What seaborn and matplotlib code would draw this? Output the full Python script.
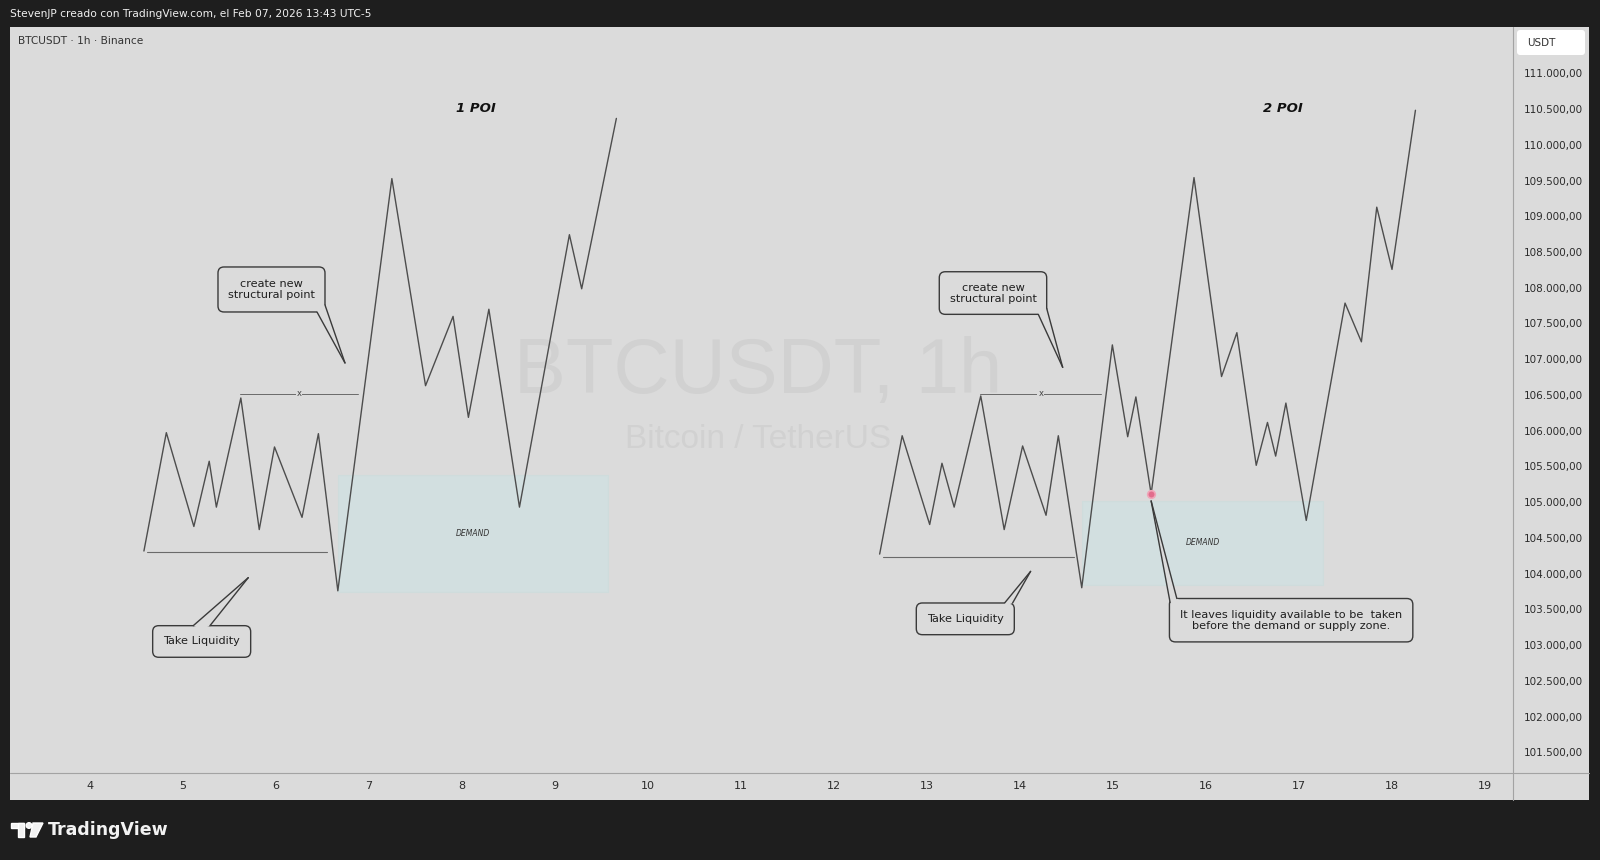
import matplotlib
matplotlib.use("Agg")
import numpy as np
import pandas as pd
import matplotlib.pyplot as plt
import seaborn as sns
from matplotlib.patches import Rectangle, FancyBboxPatch, Polygon, Circle
from matplotlib.lines import Line2D
from matplotlib.transforms import IdentityTransform
from matplotlib.ticker import FixedLocator, FuncFormatter

# ---- price paths (day of month, USDT) ----
poi1_days = [4.582, 4.823, 5.119, 5.284, 5.361, 5.624, 5.822, 5.986, 6.282, 6.458,
             6.667, 7.248, 7.610, 7.906, 8.071, 8.291, 8.620, 9.157, 9.289, 9.662]
poi1_prices = [104316, 105972, 104659, 105572, 104930, 106457, 104616, 105772, 104787, 105958,
               103759, 109527, 106629, 107599, 106186, 107699, 104930, 108742, 107985, 110369]

poi2_days = [12.493, 12.735, 13.031, 13.163, 13.294, 13.580, 13.832, 14.030, 14.282, 14.414,
             14.666, 14.995, 15.160, 15.248, 15.412, 15.873, 16.169, 16.334, 16.542, 16.663,
             16.751, 16.861, 17.080, 17.497, 17.673, 17.838, 18.002, 18.254]
poi2_prices = [104273, 105929, 104687, 105544, 104930, 106486, 104616, 105786, 104816, 105929,
               103802, 107200, 105915, 106472, 105115, 109541, 106757, 107371, 105515, 106115,
               105644, 106386, 104744, 107785, 107243, 109127, 108256, 110483]

# demand zones: [start day, end day], [low, high]
demand1_days = [6.672, 9.575]
demand1_prices = [103747, 105379]
demand2_days = [14.665, 17.263]
demand2_prices = [103840, 105020]

# structure / liquidity levels
struct1_days = [5.615, 6.884]
struct2_days = [13.575, 14.876]
struct_price = 106509
liq1_days = [4.612, 6.547]
liq1_price = 104298
liq2_days = [12.526, 14.578]
liq2_price = 104231

# untouched low marked on the second path
marked_day = 15.412
marked_price = 105115

day_ticks = [4, 5, 6, 7, 8, 9, 10, 11, 12, 13, 14, 15, 16, 17, 18, 19]
price_ticks = [101500, 102000, 102500, 103000, 103500, 104000, 104500, 105000, 105500,
               106000, 106500, 107000, 107500, 108000, 108500, 109000, 109500, 110000,
               110500, 111000]

W, H = 1600, 860
BG = "#dbdbdb"
DARK = "#1e1e1e"
LINE = "#4d4d4d"
EDGE = "#3a3a3a"
SEP = "#a3a3a3"
TXT = "#2b2b2b"
ZONE = "#d2dfe0"

sns.set_theme(style="white")
plt.rcParams["font.family"] = ["DejaVu Sans"]

fig = plt.figure(figsize=(W / 100, H / 100), dpi=100, facecolor=DARK)

# light chart panel (behind the axes)
fig.patches.append(Rectangle((10 / W, 60 / H), 1579 / W, 773 / H, transform=fig.transFigure,
                             facecolor=BG, edgecolor="none", zorder=-5))

ax = fig.add_axes([10 / W, 87 / H, 1503 / W, 746 / H])
ax.set_facecolor(BG)
ax.set_xlim(3.142, 19.303)
ax.set_ylim(101210, 111648)
for s in ax.spines.values():
    s.set_visible(False)

# separators between pane and scales
fig.add_artist(Line2D([1513 / W, 1513 / W], [60 / H, 833 / H], transform=fig.transFigure,
                      color=SEP, lw=0.8, zorder=3))
fig.add_artist(Line2D([10 / W, 1589 / W], [87 / H, 87 / H], transform=fig.transFigure,
                      color=SEP, lw=0.8, zorder=3))

# axes ticks
ax.yaxis.tick_right()
ax.yaxis.set_major_locator(FixedLocator(price_ticks))
ax.yaxis.set_major_formatter(FuncFormatter(
    lambda v, p: f"{v:,.2f}".replace(",", "X").replace(".", ",").replace("X", ".")))
ax.xaxis.set_major_locator(FixedLocator(day_ticks))
ax.xaxis.set_major_formatter(FuncFormatter(lambda v, p: f"{int(round(v))}"))
ax.tick_params(axis="y", length=0, pad=7.5, labelsize=7.5, labelcolor=TXT)
ax.tick_params(axis="x", length=0, pad=6, labelsize=8, labelcolor=TXT)
for lab in ax.get_yticklabels():
    lab.set_horizontalalignment("left")
ax.grid(False)

# watermark
ax.text(0.4977, 0.537, "BTCUSDT, 1h", transform=ax.transAxes, ha="center", va="center",
        fontsize=56, color="#d1d1d1", family="Liberation Sans", zorder=0)
ax.text(0.4977, 0.4464, "Bitcoin / TetherUS", transform=ax.transAxes, ha="center", va="center",
        fontsize=24, color="#d1d1d1", family="Liberation Sans", zorder=0)

# demand zones
for dd, pp in [(demand1_days, demand1_prices), (demand2_days, demand2_prices)]:
    ax.add_patch(Rectangle((dd[0], pp[0]), dd[1] - dd[0], pp[1] - pp[0],
                           facecolor=ZONE, edgecolor="#cfdcdc", lw=0.8, zorder=1))
    ax.text((dd[0] + dd[1]) / 2, (pp[0] + pp[1]) / 2, "DEMAND", ha="center", va="center",
            fontsize=5.5, style="italic", color="#333333", zorder=2)

# price paths
paths = pd.concat([
    pd.DataFrame({"day": poi1_days, "price": poi1_prices, "leg": "1"}),
    pd.DataFrame({"day": poi2_days, "price": poi2_prices, "leg": "2"}),
])
for leg, df in paths.groupby("leg"):
    sns.lineplot(data=df, x="day", y="price", ax=ax, sort=False, estimator=None,
                 color=LINE, lw=1.0, zorder=3)
ax.set_xlabel("")
ax.set_ylabel("")

# structure and liquidity levels
for dd in (struct1_days, struct2_days):
    ax.plot(dd, [struct_price, struct_price], color="#6a6a6a", lw=0.7, zorder=3)
    ax.text(sum(dd) / 2, struct_price + 15, "x", ha="center", va="center", fontsize=6,
            color="#444444", zorder=4,
            bbox=dict(facecolor=BG, edgecolor="none", pad=0.6))
ax.plot(liq1_days, [liq1_price] * 2, color="#6a6a6a", lw=0.8, zorder=3)
ax.plot(liq2_days, [liq2_price] * 2, color="#6a6a6a", lw=0.8, zorder=3)

# POI labels
ax.text(8.153, 110514, "1 POI", ha="center", va="center", fontsize=9.5,
        fontweight="bold", style="italic", color="#111111")
ax.text(16.827, 110514, "2 POI", ha="center", va="center", fontsize=9.5,
        fontweight="bold", style="italic", color="#111111")


def screen(day, price):
    x, y = ax.transData.transform((day, price))
    return x, H - y


def disp(pt):
    return pt[0], H - pt[1]


def callout(anchor, box, base1, base2, text, fs=8.1, tip_off=(0, 0)):
    tx, ty = screen(*anchor)
    tx += tip_off[0]
    ty += tip_off[1]
    x0, y0, x1, y1 = tx + box[0], ty + box[1], tx + box[2], ty + box[3]
    b1 = (tx + base1[0], ty + base1[1])
    b2 = (tx + base2[0], ty + base2[1])
    ident = IdentityTransform()
    ax.add_patch(FancyBboxPatch((x0, H - y1), x1 - x0, y1 - y0,
                                boxstyle="round,pad=0,rounding_size=6",
                                transform=ident, facecolor=BG, edgecolor=EDGE, lw=1.0,
                                zorder=6))
    cx, cy = (x0 + x1) / 2, (y0 + y1) / 2
    mx, my = (b1[0] + b2[0]) / 2, (b1[1] + b2[1]) / 2
    inner = (mx + (cx - mx) * 0.12, my + (cy - my) * 0.25)
    ax.add_patch(Polygon([disp(b1), disp((tx, ty)), disp(b2), disp(inner)], closed=True,
                         transform=ident, facecolor=BG, edgecolor="none", zorder=7))
    for b in (b1, b2):
        ax.add_line(Line2D([b[0], tx], [H - b[1], H - ty], transform=ident,
                           color=EDGE, lw=1.0, zorder=8))
    ax.text(cx, H - cy, text, transform=ident, ha="center", va="center", fontsize=fs,
            color="#1e1e1e", linespacing=1.12, zorder=9)


callout((6.744, 106947), (-127, -96, -20, -51), (-28, -51), (-20, -58),
        "create new\nstructural point")
callout((5.704, 103943), (-95.6, 48, 2.4, 79.6), (-55, 48), (-38.3, 48), "Take Liquidity")
callout((14.461, 106886), (-123.4, -95.6, -16, -53), (-24.4, -53), (-16, -59),
        "create new\nstructural point")
callout((14.116, 104031), (-114.3, 31.6, -16.3, 63.3), (-26, 31.6), (-18, 31.6),
        "Take Liquidity")
callout((marked_day, marked_price), (18.3, 97.6, 261.7, 141), (19, 101.6), (25.7, 97.6),
        "It leaves liquidity available to be  taken\nbefore the demand or supply zone.",
        tip_off=(0, 7))

ax.scatter([marked_day], [marked_price], s=30, color="#e26d8c", edgecolor="#f0a5b8",
           linewidth=1.2, zorder=10)

# header / legend texts
fig.text(10 / W, 1 - 14 / H, "StevenJP creado con TradingView.com, el Feb 07, 2026 13:43 UTC-5",
         ha="left", va="center", fontsize=7.7, color="#f0f0f0")
fig.text(18 / W, 1 - 41 / H, "BTCUSDT · 1h · Binance", ha="left", va="center",
         fontsize=7.6, color="#333333")

# currency tag on the price scale
fig.patches.append(FancyBboxPatch((1517, H - 55), 68, 25, boxstyle="round,pad=0,rounding_size=3",
                                  transform=IdentityTransform(), facecolor="#ffffff",
                                  edgecolor="none", zorder=2))
fig.text(1527 / W, 1 - 43 / H, "USDT", ha="left", va="center", fontsize=7.5, color="#333333")

# footer brand
ident = IdentityTransform()
fig.patches.append(Rectangle((11, H - 828), 13, 5, transform=ident, facecolor="#f2f2f2"))
fig.patches.append(Rectangle((18, H - 837), 6, 14, transform=ident, facecolor="#f2f2f2"))
fig.patches.append(Circle((29, H - 825.5), 2.8, transform=ident, facecolor="#f2f2f2"))
fig.patches.append(Polygon([(33, H - 823), (43, H - 823), (36, H - 837), (30, H - 837)],
                           transform=ident, facecolor="#f2f2f2"))
fig.text(48 / W, 1 - 830 / H, "TradingView", ha="left", va="center", fontsize=12.5,
         fontweight="bold", color="#f2f2f2")

fig.savefig("out.png", dpi=100, facecolor=DARK)
